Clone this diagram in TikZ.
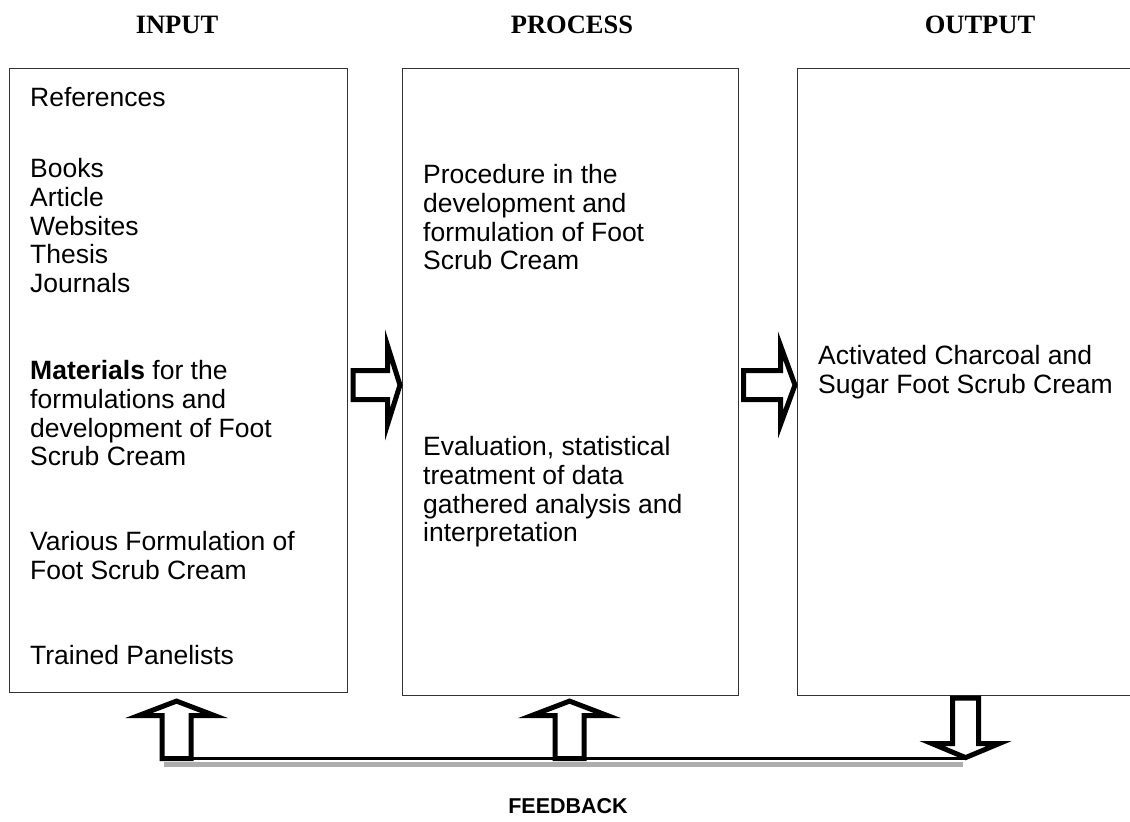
\documentclass[tikz,border=0pt]{standalone}
\usepackage{fontspec}
\setmainfont{Liberation Serif}
\setsansfont{Liberation Sans}
\usetikzlibrary{calc}

\tikzset{
  panel/.style={draw=black!80, line width=1.1pt, inner sep=0pt, anchor=north west},
  item/.style={font=\sffamily\fontsize{26.5}{28.75}\selectfont, anchor=base west, inner sep=0pt},
  heading/.style={font=\rmfamily\bfseries\fontsize{26.5}{30}\selectfont, anchor=base, inner sep=0pt},
  fbtitle/.style={font=\sffamily\bfseries\fontsize{21.5}{24}\selectfont, anchor=base, inner sep=0pt},
  hollow/.style={draw=black, fill=white, line width=5pt, line join=miter},
  fbline/.style={line width=3.5pt, black},
  fbshadow/.style={line width=5.5pt, black!32},
}

% hollow block arrow pointing right: from, to, body half width, head half width, head length
\newcommand\hollowH[5]{%
  \draw[hollow] ($(#1)+(0,-#3)$) -- ($(#2)+(-#5,-#3)$) -- ($(#2)+(-#5,-#4)$) -- (#2)
    -- ($(#2)+(-#5,#4)$) -- ($(#2)+(-#5,#3)$) -- ($(#1)+(0,#3)$) -- cycle;}
% hollow block arrow, vertical: from, to, body half width, head half width, signed head offset
\newcommand\hollowV[5]{%
  \draw[hollow] ($(#1)+(-#3,0)$) -- ($(#2)+(-#3,#5)$) -- ($(#2)+(-#4,#5)$) -- (#2)
    -- ($(#2)+(#4,#5)$) -- ($(#2)+(#3,#5)$) -- ($(#1)+(#3,0)$) -- cycle;}

\begin{document}
\begin{tikzpicture}[x=1pt, y=-1pt]
\useasboundingbox (0,0) rectangle (1130,822);

% column headings
\node[heading] (tin)   at (177,33) {INPUT};
\node[heading] (tproc) at (572,33) {PROCESS};
\node[heading] (tout)  at (980,33) {OUTPUT};

% the three panels
\node[panel, minimum width=338pt, minimum height=624pt] (inbox)   at (9,68)   {};
\node[panel, minimum width=336pt, minimum height=627pt] (procbox) at (402,68) {};
\node[panel, minimum width=340pt, minimum height=627pt] (outbox)  at (797,68) {};

% input items
\foreach \txt/\yy [count=\i] in {
  References/106.5, Books/177.5, Article/206.25, Websites/235, Thesis/263.75, Journals/292.5,
  {\textbf{Materials} for the}/379.5, formulations and/408.25, development of Foot/437, Scrub Cream/465.75,
  Various Formulation of/550.5, Foot Scrub Cream/579.25, Trained Panelists/664.5}
  \node[item] (in\i) at (30,\yy) {\txt};

% process items
\foreach \txt/\yy [count=\i] in {
  Procedure in the/183.5, development and/212.25, formulation of Foot/241, Scrub Cream/269.75,
  {Evaluation, statistical}/455.5, treatment of data/484.25, gathered analysis and/513, interpretation/541.75}
  \node[item] (pr\i) at (423,\yy) {\txt};

% output items
\node[item] (out1) at (818,364.5) {Activated Charcoal and};
\node[item] (out2) at (818,393.25) {Sugar Foot Scrub Cream};

% forward arrows between panels
\coordinate (mid) at (0,385);
\coordinate (a1s) at ($(inbox.east |- mid)+(5,0)$);
\coordinate (a1e) at ($(procbox.west |- mid)+(-2,0)$);
\coordinate (a2s) at ($(procbox.east |- mid)+(4.5,0)$);
\coordinate (a2e) at ($(outbox.west |- mid)+(-2,0)$);

% feedback loop
\coordinate (fbl) at (0,758.5);
\coordinate (u1e) at ($(inbox.south)+(-2,8)$);
\coordinate (u1s) at (u1e |- fbl);
\coordinate (u2e) at ($(procbox.south)+(-1,5)$);
\coordinate (u2s) at (u2e |- fbl);
\coordinate (d1s) at ($(outbox.south)+(-2,2)$);
\coordinate (d1e) at ($(d1s)+(0,59.5)$);

\draw[fbshadow] ($(u1s)+(-13,6)$) -- ($(d1e |- fbl)+(-3,6)$);
\draw[fbline] ($(u1s)+(-17,0)$) -- (d1e |- fbl);

\hollowH{a1s}{a1e}{14.5}{39.5}{12.5}
\hollowH{a2s}{a2e}{14.5}{39.5}{14.5}
\hollowV{u1s}{u1e}{14.5}{38}{14.5}
\hollowV{u2s}{u2e}{14.5}{38}{14.5}
\hollowV{d1s}{d1e}{13}{33.5}{-14}

\node[fbtitle] (tfb) at (568,813) {FEEDBACK};
\end{tikzpicture}
\end{document}
